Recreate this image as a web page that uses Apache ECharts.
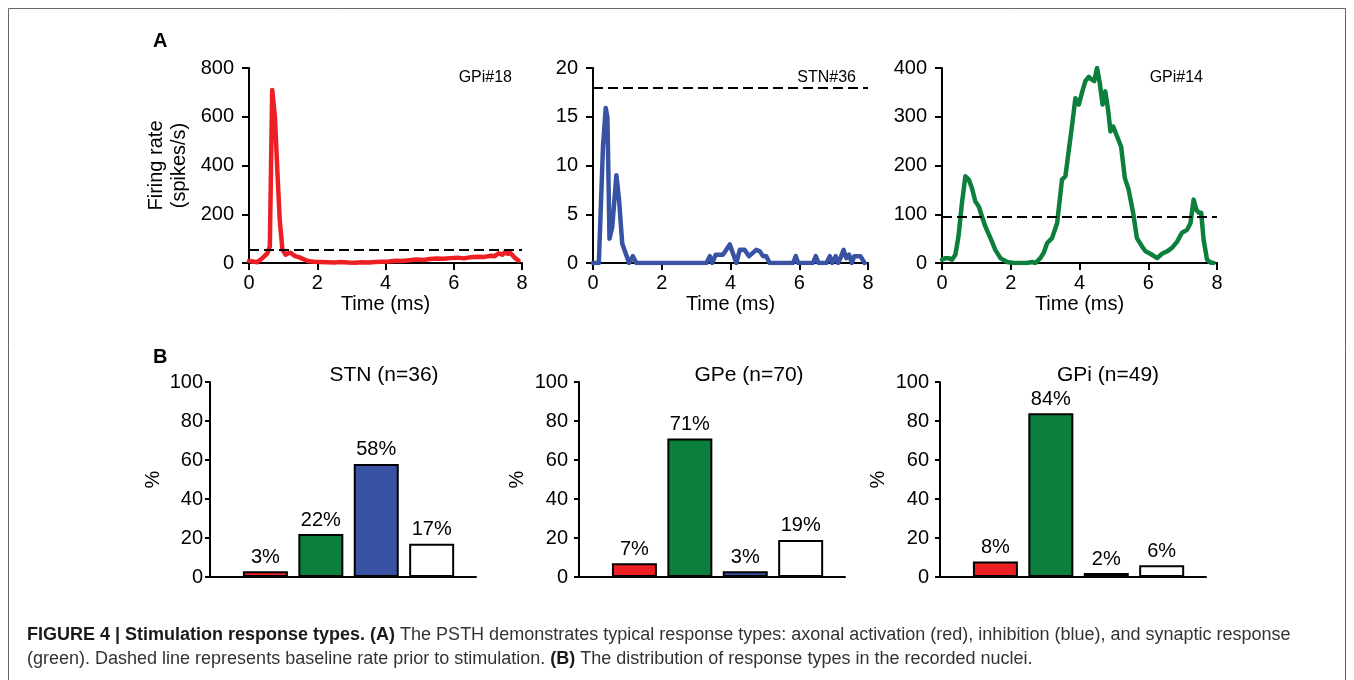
<!DOCTYPE html>
<html>
<head>
<meta charset="utf-8">
<script src="https://cdn.jsdelivr.net/npm/echarts@6/dist/echarts.min.js"></script>
<style>
  html, body { margin: 0; padding: 0; background: #fff; }
  #chart { width: 1354px; height: 680px; }
</style>
</head>
<body>
<div id="chart"></div>
<script>
// --- panel A: PSTH traces (time in ms, firing rate in spikes/s)
const timeGPi18 = [0, 0.1, 0.24, 0.39, 0.54, 0.61, 0.68, 0.76, 0.83, 0.9, 0.98, 1.07, 1.15, 1.22, 1.3, 1.37, 1.46, 1.56, 1.66, 1.76, 1.9, 2.1, 2.3, 2.5, 2.7, 2.9, 3.1, 3.3, 3.5, 3.7, 3.9, 4.1, 4.3, 4.5, 4.7, 4.9, 5.1, 5.3, 5.5, 5.7, 5.9, 6.1, 6.3, 6.5, 6.7, 6.9, 7.1, 7.2, 7.32, 7.42, 7.5, 7.58, 7.66, 7.8, 7.9];
const rateGPi18 = [8, 6, 3, 20, 40, 68, 710, 600, 380, 178, 55, 34, 40, 42, 33, 27, 24, 18, 12, 7, 5, 4, 3, 2, 4, 2, 1, 3, 2, 4, 5, 6, 9, 8, 11, 14, 12, 16, 18, 17, 20, 22, 19, 24, 26, 25, 30, 28, 40, 34, 44, 38, 41, 20, 10];

const timeSTN36 = [0, 0.17, 0.29, 0.37, 0.42, 0.48, 0.56, 0.68, 0.76, 0.85, 0.95, 1.05, 1.16, 1.26, 3.3, 3.4, 3.47, 3.57, 3.78, 3.98, 4.07, 4.17, 4.27, 4.41, 4.54, 4.75, 4.85, 4.95, 5.04, 5.14, 5.82, 5.9, 5.97, 6.4, 6.48, 6.56, 6.79, 6.89, 6.96, 7.06, 7.13, 7.2, 7.29, 7.37, 7.45, 7.53, 7.6, 7.71, 7.78, 7.9];
const rateSTN36 = [0, 0, 11.9, 15.9, 14.9, 2.5, 3.7, 9, 6.4, 2, 1, 0, 0.7, 0, 0, 0.7, 0, 0.85, 0.85, 1.9, 1, 0, 1.35, 1.35, 0.7, 1.35, 1.2, 0.7, 0.7, 0, 0, 0.7, 0, 0, 0.7, 0, 0, 0.7, 0, 0.7, 0, 0.5, 1.35, 0.5, 0.85, 0, 0.7, 0.7, 0.7, 0];

const timeGPi14 = [0, 0.1, 0.19, 0.29, 0.39, 0.48, 0.58, 0.68, 0.78, 0.87, 0.97, 1.07, 1.16, 1.26, 1.41, 1.55, 1.7, 1.89, 2.09, 2.47, 2.62, 2.72, 2.86, 2.96, 3.06, 3.2, 3.35, 3.49, 3.59, 3.69, 3.78, 3.88, 3.98, 4.07, 4.17, 4.27, 4.36, 4.43, 4.51, 4.59, 4.67, 4.75, 4.83, 4.9, 4.98, 5.09, 5.21, 5.32, 5.43, 5.56, 5.67, 5.82, 5.92, 6.06, 6.26, 6.4, 6.55, 6.69, 6.84, 6.98, 7.13, 7.23, 7.32, 7.4, 7.47, 7.54, 7.61, 7.71, 7.81, 7.9];
const rateGPi14 = [7, 10, 10, 7, 17, 55, 123, 178, 171, 154, 126, 116, 96, 75, 51, 27, 10, 2, 0, 0, 2, 0, 10, 21, 41, 51, 82, 171, 178, 232, 280, 338, 325, 349, 373, 382, 376, 373, 400, 369, 325, 352, 315, 270, 280, 260, 239, 174, 150, 103, 51, 34, 24, 19, 10, 19, 24, 31, 44, 62, 68, 82, 130, 109, 103, 103, 48, 7, 1, 0];

// baseline rate prior to stimulation (dashed lines)
const baselineRates = [55, 18, 95];
const traceLabels = ['GPi#18', 'STN#36', 'GPi#14'];
const traceMax = [800, 20, 400];
const traceStep = [200, 5, 100];
const timeTicks = [0, 8, 2]; // min, max, interval

// --- panel B: distribution of response types
const responseTypes = ['Axonal activation', 'Synaptic response', 'Inhibition', 'No response'];
const typeIndex = [1, 2, 3, 4];
const nucleusTitles = ['STN (n=36)', 'GPe (n=70)', 'GPi (n=49)'];
const pctSTN = [3, 22, 58, 17];
const pctGPe = [7, 71, 3, 19];
const pctGPi = [8, 84, 2, 6];

const typeColors = ['#ed1f24', '#0d7f3d', '#3953a4', '#ffffff'];
const traceColors = ['#ed1f24', '#3953a4', '#0d7f3d'];

const FONT = "'Liberation Sans', Arial, sans-serif";
const chart = echarts.init(document.getElementById('chart'));

const gridA = [{ left: 249, width: 273 }, { left: 593, width: 275 }, { left: 942, width: 275 }];
const gridB = [{ left: 210, width: 266 }, { left: 579, width: 266 }, { left: 940, width: 266 }];
const labelRight = [517, 861, 1208];
const titleCenterB = [379, 744, 1103];
const pctGapB = [47, 52, 52];
const pctMarginB = [7, 11, 11];

const grids = [];
const xAxes = [];
const yAxes = [];
const series = [];
const titles = [];

const axisLine = { show: true, onZero: false, lineStyle: { color: '#000', width: 2 } };
const tickStyle = { color: '#000', width: 2 };

const traces = [[timeGPi18, rateGPi18], [timeSTN36, rateSTN36], [timeGPi14, rateGPi14]];

traces.forEach(function (tr, i) {
    grids.push({ left: gridA[i].left, width: gridA[i].width, top: 68, height: 195 });
    xAxes.push({
        type: 'value', gridIndex: i, min: timeTicks[0], max: timeTicks[1], interval: timeTicks[2],
        name: 'Time (ms)', nameLocation: 'middle', nameGap: 31,
        nameTextStyle: { fontSize: 20, color: '#000', fontFamily: FONT },
        axisLine: axisLine,
        axisTick: { show: true, length: 7, lineStyle: tickStyle },
        axisLabel: { fontSize: 20, color: '#000', margin: 10, fontFamily: FONT },
        splitLine: { show: false }
    });
    yAxes.push({
        type: 'value', gridIndex: i, min: 0, max: traceMax[i], interval: traceStep[i],
        name: i === 0 ? 'Firing rate\n(spikes/s)' : '', nameLocation: 'middle', nameGap: 58,
        nameTextStyle: { fontSize: 20, color: '#000', lineHeight: 23, fontFamily: FONT },
        axisLine: axisLine,
        axisTick: { show: true, length: 7, lineStyle: tickStyle },
        axisLabel: { fontSize: 20, color: '#000', margin: 15, fontFamily: FONT },
        splitLine: { show: false }
    });
    series.push({
        type: 'line', xAxisIndex: i, yAxisIndex: i,
        data: tr[0].map(function (t, k) { return [t, tr[1][k]]; }),
        symbol: 'none', smooth: false,
        lineStyle: { color: traceColors[i], width: 4.5, join: 'round', cap: 'round' },
        markLine: {
            silent: true, symbol: 'none', label: { show: false },
            lineStyle: { color: '#000', type: [10, 5], width: 2 },
            data: [{ yAxis: baselineRates[i] }]
        },
        z: 3
    });
    titles.push({
        text: traceLabels[i], right: 1354 - labelRight[i], top: 65,
        textStyle: { fontSize: 16, fontWeight: 'normal', color: '#000', fontFamily: FONT }
    });
});

[pctSTN, pctGPe, pctGPi].forEach(function (pcts, j) {
    const gi = 3 + j;
    grids.push({ left: gridB[j].left, width: gridB[j].width, top: 382, height: 195 });
    xAxes.push({
        type: 'value', gridIndex: gi, min: 0, max: 4.8,
        axisLine: axisLine, axisTick: { show: false }, axisLabel: { show: false },
        splitLine: { show: false }
    });
    yAxes.push({
        type: 'value', gridIndex: gi, min: 0, max: 100, interval: 20,
        name: '%', nameLocation: 'middle', nameGap: pctGapB[j],
        nameTextStyle: { fontSize: 20, color: '#000', fontFamily: FONT },
        axisLine: axisLine,
        axisTick: { show: true, length: 5, lineStyle: tickStyle },
        axisLabel: { fontSize: 20, color: '#000', margin: pctMarginB[j], fontFamily: FONT },
        splitLine: { show: false }
    });
    series.push({
        type: 'bar', xAxisIndex: gi, yAxisIndex: gi, barWidth: 45,
        data: pcts.map(function (v, k) {
            return {
                name: responseTypes[k], value: [typeIndex[k], v],
                itemStyle: { color: typeColors[k], borderColor: '#000', borderWidth: 2 }
            };
        }),
        label: {
            show: true, position: 'top', distance: 4, fontSize: 20, color: '#000', fontFamily: FONT,
            formatter: function (p) { return p.value[1] + '%'; }
        }
    });
    titles.push({
        text: nucleusTitles[j], left: titleCenterB[j], textAlign: 'center', top: 360,
        textStyle: { fontSize: 21, fontWeight: 'normal', color: '#000', fontFamily: FONT }
    });
});

titles.push({ text: 'A', left: 148, top: 26, textStyle: { fontSize: 20, fontWeight: 'bold', color: '#000', fontFamily: FONT } });
titles.push({ text: 'B', left: 148, top: 342, textStyle: { fontSize: 20, fontWeight: 'bold', color: '#000', fontFamily: FONT } });

const option = {
    animation: false,
    backgroundColor: '#fff',
    title: titles,
    grid: grids,
    xAxis: xAxes,
    yAxis: yAxes,
    series: series,
    graphic: [
        {
            type: 'rect', silent: true,
            shape: { x: 8.5, y: 8.5, width: 1337, height: 700 },
            style: { fill: 'none', stroke: '#666', lineWidth: 1 }
        },
        {
            type: 'text', left: 27, top: 623, silent: true,
            style: {
                text: '{b|FIGURE 4 | Stimulation response types. (A)} The PSTH demonstrates typical response types: axonal activation (red), inhibition (blue), and synaptic response\n' +
                      '(green). Dashed line represents baseline rate prior to stimulation. {b|(B)} The distribution of response types in the recorded nuclei.',
                fill: '#333', fontSize: 18, lineHeight: 24, fontFamily: FONT,
                rich: { b: { fontWeight: 'bold', fontSize: 18, fill: '#1a1a1a', fontFamily: FONT } }
            }
        }
    ]
};
chart.setOption(option);
</script>
</body>
</html>
